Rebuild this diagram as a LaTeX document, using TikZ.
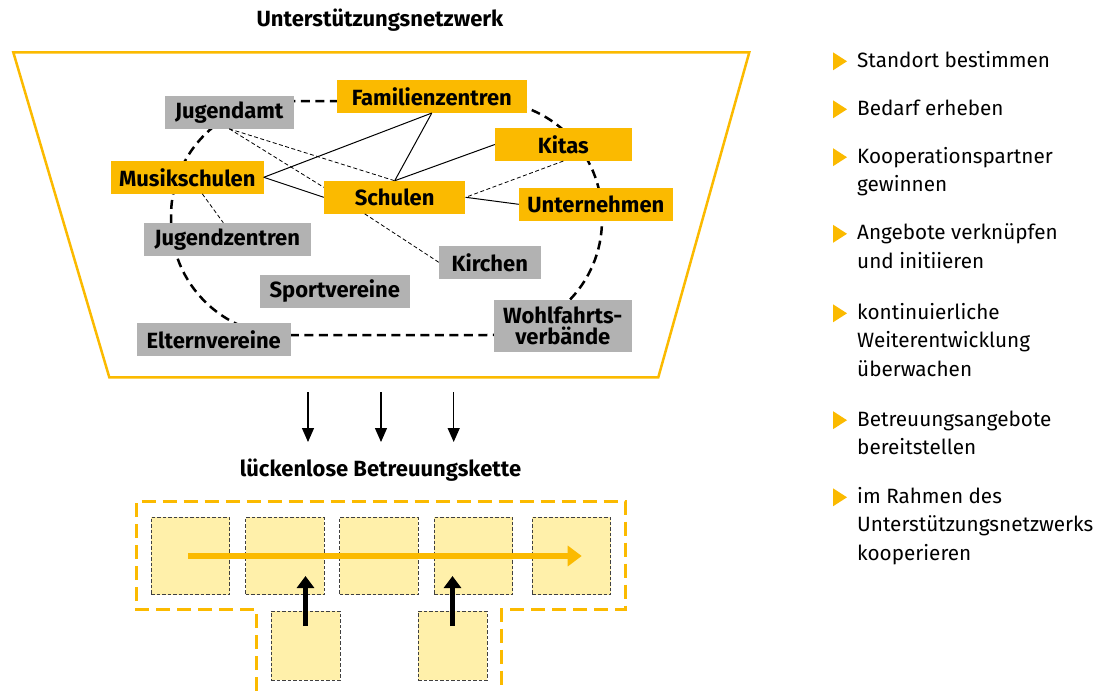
\documentclass[tikz,border=0pt]{standalone}
\usepackage{fontspec}
\setmainfont{Fira Sans}
\usepackage{tikz}
\usetikzlibrary{arrows.meta,positioning,calc}
\definecolor{netzorange}{RGB}{251,186,0}
\definecolor{netzgrau}{RGB}{178,178,178}
\definecolor{kettegelb}{RGB}{255,240,170}

\begin{document}
\begin{tikzpicture}[x=1pt, y=-1pt,
    box/.style={rectangle, minimum height=32.7pt, inner sep=0pt, align=center, font=\bfseries\fontsize{22}{21.5}\selectfont},
    orgbox/.style={box, fill=netzorange},
    graybox/.style={box, fill=netzgrau},
    link/.style={line width=1pt},
    weak/.style={line width=0.8pt, dash pattern=on 4pt off 2.5pt},
    glied/.style={rectangle, draw=black!75, fill=kettegelb, line width=0.8pt, dash pattern=on 3.5pt off 2pt, inner sep=0pt},
    titel/.style={font=\bfseries\fontsize{22}{24}\selectfont, inner sep=0pt},
    listitem/.style={anchor=base west, align=left, inner sep=0pt, font=\fontsize{20.7}{28.5}\selectfont}]
    \useasboundingbox (0,0) rectangle (1101,691);

    % Netzwerk
    \node[titel] (netztitel) at (380,20) {Unterstützungsnetzwerk};
    \draw[netzorange, line width=2.5pt] (13.3,52.3) -- (749.3,52.3) -- (658.3,377.3) -- (109.3,377.3) -- cycle;
    \draw[line width=2.5pt, dash pattern=on 9pt off 5.5pt, rounded corners=115pt] (171,101) rectangle (602,335);

    \node[graybox, minimum width=128.4pt] (jugendamt) at (229.3,112.3) {Jugendamt};
    \node[orgbox, minimum width=189.6pt] (familienzentren) at (431.8,96.5) {Familienzentren};
    \node[orgbox, minimum width=136.6pt] (kitas) at (563.3,144.5) {Kitas};
    \node[orgbox, minimum width=152.5pt] (musikschulen) at (187.3,177.3) {Musikschulen};
    \node[orgbox, minimum width=141.5pt] (schulen) at (394.7,197.3) {Schulen};
    \node[orgbox, minimum width=153.7pt] (unternehmen) at (595.8,204.3) {Unternehmen};
    \node[graybox, minimum width=166.5pt] (jugendzentren) at (227.3,239.3) {Jugendzentren};
    \node[graybox, minimum width=101.6pt] (kirchen) at (489.8,262.3) {Kirchen};
    \node[graybox, minimum width=149.7pt] (sportvereine) at (334.8,291.3) {Sportvereine};
    \node[graybox, minimum width=153.5pt] (elternvereine) at (213.8,339.3) {Elternvereine};
    \node[graybox, minimum width=137.6pt, minimum height=51.7pt] (wohlfahrt) at (562.8,325.8) {Wohlfahrts-\\verbände};

    % feste Verbindungen
    \draw[link] (musikschulen.east) -- (familienzentren.south);
    \draw[link] (musikschulen.east) -- (schulen.west);
    \draw[link] (familienzentren.south) -- (schulen.north);
    \draw[link] (kitas.west) -- (schulen.north);
    \draw[link] (schulen.east) -- (unternehmen.west);

    % lose Verbindungen
    \draw[weak] (jugendamt.south) -- (schulen.north);
    \draw[weak] (jugendamt.south) -- ([yshift=10pt]schulen.west);
    \draw[weak] ([xshift=15pt]musikschulen.south) -- ([xshift=-4pt]jugendzentren.north);
    \draw[weak] ([xshift=-30pt]schulen.south) -- (kirchen.west);
    \draw[weak] (kitas.south) -- (schulen.east);

    % Pfeile
    \coordinate (p1) at (308,392);
    \coordinate (p2) at (381,392);
    \coordinate (p3) at (453.7,392);
    \node[titel] (kettetitel) at (380.5,470) {lückenlose Betreuungskette};
    \draw[line width=1.3pt, -{Triangle[length=14pt, width=12pt]}] (p1) -- (p1 |- 0,442);
    \draw[line width=1.3pt, -{Triangle[length=14pt, width=12pt]}] (p2) -- (p2 |- 0,442);
    \draw[line width=1.3pt, -{Triangle[length=14pt, width=12pt]}] (p3) -- (p3 |- 0,442);

    % Betreuungskette
    \draw[netzorange, line width=3pt, dash pattern=on 14pt off 7pt] (256,691) -- (256,609) -- (136,609) -- (136,501.7) -- (625.7,501.7) -- (625.7,609) -- (501.7,609) -- (501.7,691);
    \node[glied, minimum width=78.7pt, minimum height=77.7pt] (g1) at (190.5,556) {};
    \node[glied, minimum width=78.7pt, minimum height=77.7pt] (g2) at (284.9,556) {};
    \node[glied, minimum width=78.7pt, minimum height=77.7pt] (g3) at (379,556) {};
    \node[glied, minimum width=78.7pt, minimum height=77.7pt] (g4) at (473.4,556) {};
    \node[glied, minimum width=78.7pt, minimum height=77.7pt] (g5) at (571.4,556) {};
    \node[glied, minimum width=69pt, minimum height=69pt] (z1) at (305.5,645.5) {};
    \node[glied, minimum width=69pt, minimum height=69pt] (z2) at (452.5,645.5) {};
    \coordinate (kettestart) at (188,556);
    \coordinate (ketteende) at (581.7,556);
    \draw[netzorange, line width=6pt, -{Triangle[length=14pt, width=20pt]}] (kettestart) -- (ketteende);
    \draw[line width=5pt, -{Triangle[length=12pt, width=17pt]}] ([yshift=19.5pt]z1.center) -- ([yshift=-20pt]z1.center |- g2.center);
    \draw[line width=5pt, -{Triangle[length=12pt, width=17pt]}] ([yshift=19.5pt]z2.center) -- ([yshift=-20pt]z2.center |- g4.center);

    % Schritte
    \node[listitem] (s1) at (857,67.3) {Standort bestimmen};
    \node[listitem] (s2) at (857,115.3) {Bedarf erheben};
    \node[listitem] (s3) at (857,191.7) {Kooperationspartner\\gewinnen};
    \node[listitem] (s4) at (857,268.3) {Angebote verknüpfen\\und initiieren};
    \node[listitem] (s5) at (857,376.3) {kontinuierliche\\Weiterentwicklung\\überwachen};
    \node[listitem] (s6) at (857,454.7) {Betreuungsangebote\\bereitstellen};
    \node[listitem] (s7) at (857,560.3) {im Rahmen des\\Unterstützungsnetzwerks\\kooperieren};
    \foreach \s/\n in {s1/0,s2/0,s3/1,s4/1,s5/2,s6/1,s7/2}
        \fill[netzorange] ([shift={(-24pt,15pt+\n*28.5pt)}]\s.base west) -- ++(14pt,-9pt) -- ++(-14pt,-9pt) -- cycle;

\end{tikzpicture}
\end{document}
